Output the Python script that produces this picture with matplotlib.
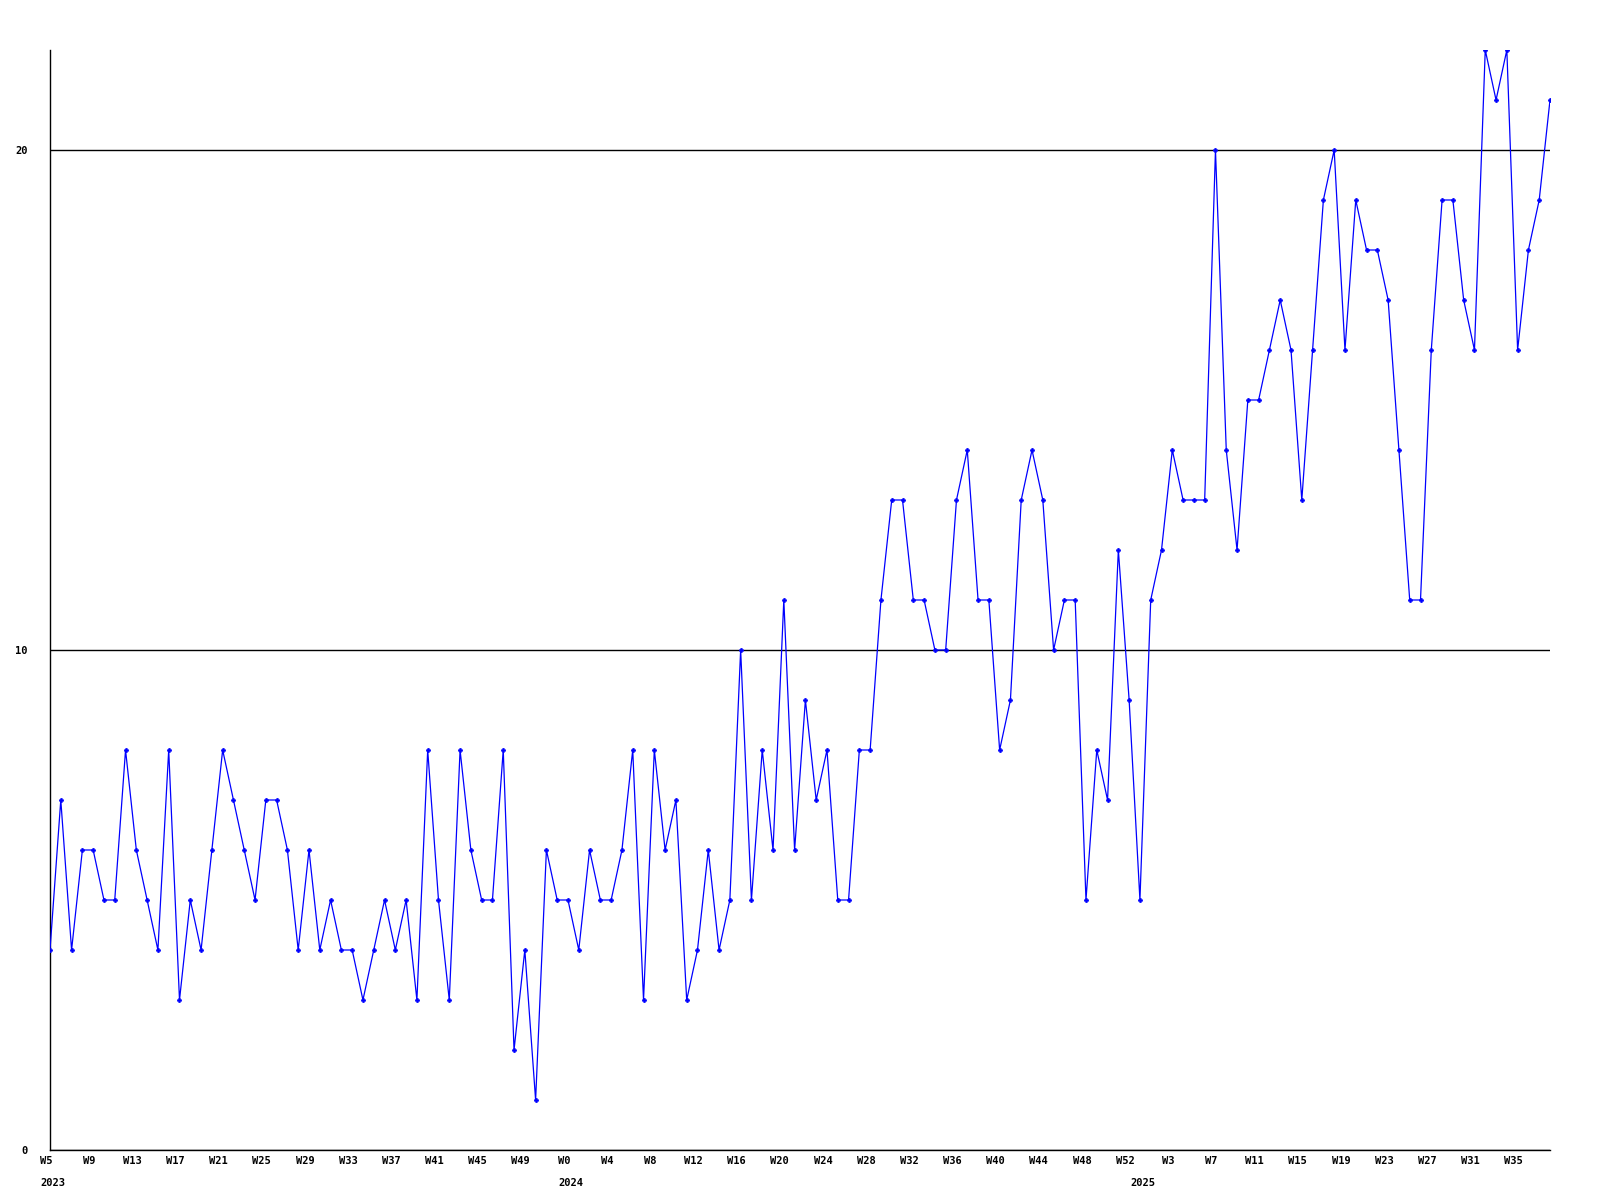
"""Weekly counts, 2023 W5 to 2025 W38, drawn in the style of the reference."""

import matplotlib
matplotlib.use("Agg")
import matplotlib.pyplot as plt
from matplotlib.transforms import blended_transform_factory, ScaledTranslation

# Week numbers per year, as printed on the x axis.
WEEKS_2023 = list(range(5, 53))
WEEKS_2024 = list(range(0, 53))
WEEKS_2025 = list(range(0, 39))

VALUES_2023 = [4, 7, 4, 6, 6, 5, 5, 8, 6, 5, 4, 8, 3, 5, 4, 6, 8, 7, 6, 5,
               7, 7, 6, 4, 6, 4, 5, 4, 4, 3, 4, 5, 4, 5, 3, 8, 5, 3, 8, 6,
               5, 5, 8, 2, 4, 1, 6, 5]
VALUES_2024 = [5, 4, 6, 5, 5, 6, 8, 3, 8, 6, 7, 3, 4, 6, 4, 5, 10, 5, 8, 6,
               11, 6, 9, 7, 8, 5, 5, 8, 8, 11, 13, 13, 11, 11, 10, 10, 13, 14,
               11, 11, 8, 9, 13, 14, 13, 10, 11, 11, 5, 8, 7, 12, 9]
VALUES_2025 = [5, 11, 12, 14, 13, 13, 13, 20, 14, 12, 15, 15, 16, 17, 16, 13,
               16, 19, 20, 16, 19, 18, 18, 17, 14, 11, 11, 16, 19, 19, 17, 16,
               22, 21, 22, 16, 18, 19, 21]

YEARS = ["2023", "2024", "2025"]
Y_TICKS = [0, 10, 20]

weeks = WEEKS_2023 + WEEKS_2024 + WEEKS_2025
values = VALUES_2023 + VALUES_2024 + VALUES_2025
x = list(range(len(values)))
year_starts = [0, len(WEEKS_2023), len(WEEKS_2023) + len(WEEKS_2024)]

FONT = dict(family="DejaVu Sans Mono", fontweight="bold", fontsize=7.5)

fig = plt.figure(figsize=(16, 12), dpi=100)
ax = fig.add_axes([50 / 1600, 50 / 1200, 1500 / 1600, 1100 / 1200])

ax.plot(x, values, color="#0000ff", linewidth=0.9, marker="P",
        markersize=3, markeredgewidth=0.5, zorder=3)

ax.set_xlim(0, len(values) - 1)
ax.set_ylim(0, 22)

ax.set_yticks(Y_TICKS)
ax.set_yticklabels([str(v) for v in Y_TICKS], **FONT)
ax.grid(True, axis="y", color="black", linewidth=1)

tick_idx = list(range(0, len(values), 4))
ax.set_xticks(tick_idx)
ax.set_xticklabels([f"W{weeks[i]}" for i in tick_idx], **FONT)
ax.tick_params(axis="x", length=0, pad=4)
ax.tick_params(axis="y", length=0, pad=16)
# week labels sit a few pixels left of their point in the original
shift = ScaledTranslation(-4 / 100, 0, fig.dpi_scale_trans)
for lab in ax.get_xticklabels():
    lab.set_transform(lab.get_transform() + shift)

trans = blended_transform_factory(ax.transData, ax.transAxes)
for idx, year in zip(year_starts, YEARS):
    ax.text(idx + 0.3, -0.025, year, transform=trans, ha="center", va="top",
            **FONT)

for side in ("top", "right"):
    ax.spines[side].set_visible(False)
for side in ("left", "bottom"):
    ax.spines[side].set_color("black")
    ax.spines[side].set_linewidth(1)

fig.savefig("out.png", dpi=100)
